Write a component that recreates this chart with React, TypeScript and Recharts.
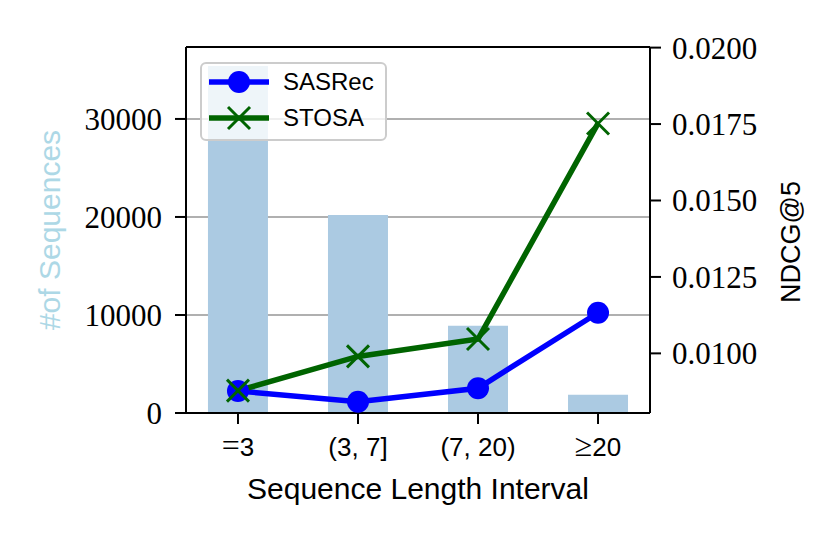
import React from 'react';
import {
  ComposedChart,
  Bar,
  Line,
  XAxis,
  YAxis,
  CartesianGrid,
  ReferenceLine
} from 'recharts';

const categories = ['=3', '(3, 7]', '(7, 20)', '≥20'];
const sequenceCounts = [35400, 20200, 8900, 1850];
const sasrecNdcg = [0.00877, 0.00842, 0.00886, 0.01133];
const stosaNdcg = [0.00878, 0.0099, 0.01047, 0.01752];

const countTicks = [0, 10000, 20000, 30000];
const ndcgTicks = [0.01, 0.0125, 0.015, 0.0175, 0.02];

const COUNT_MAX = 37340;
const NDCG_MIN = 0.00805;
const NDCG_MAX = 0.02002;

const data = categories.map((name, i) => ({
  idx: i,
  name,
  count: sequenceCounts[i],
  sasrec: sasrecNdcg[i],
  stosa: stosaNdcg[i]
}));

const SERIF = '"Liberation Serif", "DejaVu Serif", serif';
const SANS = '"Liberation Sans", "DejaVu Sans", sans-serif';

const CrossDot = (props: any) => {
  const { cx, cy } = props;
  if (cx == null || cy == null) return null;
  const s = 11;
  return (
    <g>
      <line x1={cx - s} y1={cy - s} x2={cx + s} y2={cy + s} stroke="#006400" strokeWidth={3} />
      <line x1={cx - s} y1={cy + s} x2={cx + s} y2={cy - s} stroke="#006400" strokeWidth={3} />
    </g>
  );
};

const CategoryTick = (props: any) => {
  const { x, y, payload } = props;
  const label = categories[payload.value] ?? '';
  const head = label[0];
  const isMath = head === '=' || head === '≥';
  return (
    <text x={x} y={y} dy="0.71em" textAnchor="middle" fontSize={26} fontFamily={SANS} fill="#000">
      {isMath ? (
        <>
          <tspan fontFamily={SERIF} fontSize={32}>{head}</tspan>
          <tspan>{label.slice(1)}</tspan>
        </>
      ) : (
        label
      )}
    </text>
  );
};

// legend sits on top of the plot, outside recharts' layout
const LegendBox = () => (
  <div
    style={{
      position: 'absolute',
      left: 200,
      top: 62,
      width: 187,
      height: 79,
      boxSizing: 'border-box',
      background: 'rgba(255,255,255,0.8)',
      border: '2px solid #cccccc',
      borderRadius: 6,
      fontFamily: SANS,
      fontSize: 24,
      color: '#000'
    }}
  >
    <div style={{ display: 'flex', alignItems: 'center', height: 36, marginTop: 0 }}>
      <svg width={80} height={30} style={{ marginLeft: 5 }}>
        <line x1={2} y1={15} x2={62} y2={15} stroke="#0000ff" strokeWidth={5.5} />
        <circle cx={32} cy={15} r={11} fill="#0000ff" />
      </svg>
      <span style={{ marginLeft: -4 }}>SASRec</span>
    </div>
    <div style={{ display: 'flex', alignItems: 'center', height: 36 }}>
      <svg width={80} height={30} style={{ marginLeft: 5 }}>
        <line x1={2} y1={15} x2={62} y2={15} stroke="#006400" strokeWidth={5.5} />
        <line x1={21} y1={4} x2={43} y2={26} stroke="#006400" strokeWidth={3} />
        <line x1={21} y1={26} x2={43} y2={4} stroke="#006400" strokeWidth={3} />
      </svg>
      <span style={{ marginLeft: -4 }}>STOSA</span>
    </div>
  </div>
);

export default function App() {
  return (
    <div style={{ position: 'absolute', left: 0, top: 0, width: 830, height: 546, background: '#fff' }}>
      <ComposedChart
        width={830}
        height={546}
        data={data}
        margin={{ top: 47, right: 0, bottom: 0, left: 0 }}
      >
        <CartesianGrid
          yAxisId="left"
          vertical={false}
          stroke="#b0b0b0"
          strokeWidth={2}
        />
        <XAxis
          dataKey="idx"
          type="number"
          domain={[-0.433, 3.433]}
          ticks={[0, 1, 2, 3]}
          height={133}
          axisLine={{ stroke: '#000', strokeWidth: 2 }}
          tickLine={{ stroke: '#000', strokeWidth: 2 }}
          tickSize={11}
          tickMargin={14}
          tick={<CategoryTick />}
          label={(p: any) => {
            const vb = p.viewBox;
            return (
              <text
                x={vb.x + vb.width / 2}
                y={vb.y + 86}
                textAnchor="middle"
                fontSize={30}
                fontFamily={SANS}
                fill="#000"
              >
                Sequence Length Interval
              </text>
            );
          }}
        />
        <YAxis
          yAxisId="left"
          orientation="left"
          width={186}
          domain={[0, COUNT_MAX]}
          ticks={countTicks}
          axisLine={{ stroke: '#000', strokeWidth: 2 }}
          tickLine={{ stroke: '#000', strokeWidth: 2 }}
          tickSize={11}
          tickMargin={13}
          tick={{ fill: '#000', fontSize: 31, fontFamily: SERIF }}
          label={(p: any) => {
            const vb = p.viewBox;
            const cy = vb.y + vb.height / 2;
            return (
              <text
                x={60}
                y={cy}
                transform={`rotate(-90, 60, ${cy})`}
                textAnchor="middle"
                fontSize={30}
                fontFamily={SANS}
                fill="#add8e6"
              >
                #of Sequences
              </text>
            );
          }}
        />
        <YAxis
          yAxisId="right"
          orientation="right"
          width={180}
          domain={[NDCG_MIN, NDCG_MAX]}
          ticks={ndcgTicks}
          tickFormatter={(v: number) => v.toFixed(4)}
          axisLine={{ stroke: '#000', strokeWidth: 2 }}
          tickLine={{ stroke: '#000', strokeWidth: 2 }}
          tickSize={11}
          tickMargin={11}
          tick={{ fill: '#000', fontSize: 31, fontFamily: SERIF }}
          label={(p: any) => {
            const vb = p.viewBox;
            const cy = vb.y + vb.height / 2 + 12;
            return (
              <text
                x={800}
                y={cy}
                transform={`rotate(-90, 800, ${cy})`}
                textAnchor="middle"
                fontSize={27}
                fontFamily={SANS}
                fill="#000"
              >
                NDCG@5
              </text>
            );
          }}
        />
        <ReferenceLine yAxisId="left" y={COUNT_MAX} stroke="#000" strokeWidth={2} />
        <Bar
          yAxisId="left"
          dataKey="count"
          fill="#abcae2"
          barSize={60}
          isAnimationActive={false}
        />
        <Line
          yAxisId="right"
          dataKey="sasrec"
          name="SASRec"
          stroke="#0000ff"
          strokeWidth={5.5}
          dot={{ r: 11, fill: '#0000ff', stroke: 'none' }}
          activeDot={false}
          isAnimationActive={false}
        />
        <Line
          yAxisId="right"
          dataKey="stosa"
          name="STOSA"
          stroke="#006400"
          strokeWidth={5.5}
          dot={<CrossDot />}
          activeDot={false}
          isAnimationActive={false}
        />
      </ComposedChart>
      <LegendBox />
    </div>
  );
}
